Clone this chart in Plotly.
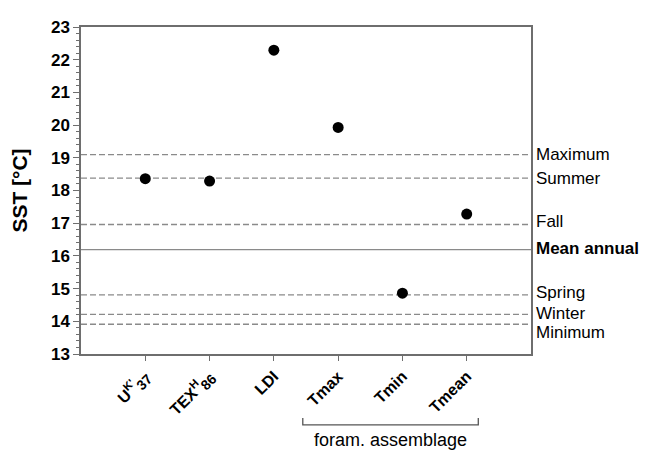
import plotly.graph_objects as go

# Data
proxies = ["U<sup>K'</sup><sub><span style=\"font-size:14px\">37</span></sub>",
           "TEX<sup>H</sup><sub><span style=\"font-size:14px\">86</span></sub>",
           "LDI", "Tmax", "Tmin", "Tmean"]
proxy_pos = [1, 2, 3, 4, 5, 6]
sst_values = [18.36, 18.29, 22.29, 19.93, 14.86, 17.28]

ref_labels = ["Maximum", "Summer", "Fall", "<b>Mean annual</b>", "Spring", "Winter", "Minimum"]
ref_values = [19.10, 18.38, 16.96, 16.19, 14.81, 14.21, 13.91]
ref_dash = ["dash", "dash", "dash", "solid", "dash", "dash", "dash"]
label_shift = [0, 0, 3, 1, 2, 1, -8]

y_ticks = list(range(13, 24))
font_family = "Arial, Liberation Sans, Helvetica, sans-serif"
axis_color = "#6e6e6e"
line_color = "#8a8a8a"

fig = go.Figure()

for lab, val, d in zip(ref_labels, ref_values, ref_dash):
    fig.add_shape(type="line", xref="paper", x0=0, x1=1, yref="y", y0=val, y1=val,
                  line=dict(color=line_color, width=1.3, dash="6px,3px" if d == "dash" else "solid"),
                  layer="below")

fig.add_trace(go.Scatter(x=proxy_pos, y=sst_values, mode="markers",
                         marker=dict(color="black", size=11, line=dict(width=0)),
                         showlegend=False))

for lab, val, sh in zip(ref_labels, ref_values, label_shift):
    fig.add_annotation(xref="paper", x=1.0, yref="y", y=val, text=lab, showarrow=False,
                       xanchor="left", yanchor="middle", xshift=3, yshift=sh,
                       font=dict(size=17, color="black", family=font_family))

# bracket for foram assemblage
bx0 = proxy_pos[3] - 0.55
bx1 = proxy_pos[5] + 0.18
fig.add_shape(type="path", xref="x", yref="paper",
              path=f"M {bx0},-0.196 L {bx0},-0.217 L {bx1},-0.217 L {bx1},-0.196",
              line=dict(color="#555555", width=1.3))
fig.add_annotation(xref="x", x=(bx0 + bx1) / 2, yref="paper", y=-0.262, text="foram. assemblage",
                   showarrow=False, xanchor="center", yanchor="middle",
                   font=dict(size=18, color="black", family=font_family))

fig.update_layout(
    width=643, height=444,
    margin=dict(l=73, r=120, t=10, b=98),
    plot_bgcolor="white", paper_bgcolor="white",
    font=dict(family=font_family, color="black"),
    xaxis=dict(range=[0, 7], tickmode="array", tickvals=proxy_pos, ticktext=[f"<b>{p}</b>" for p in proxies],
               tickangle=-45, ticks="outside", ticklen=5, tickcolor=axis_color, tickwidth=1.3,
               showline=True, linecolor=axis_color, linewidth=1.5, mirror=True,
               showgrid=False, zeroline=False, tickfont=dict(size=16, color="black")),
    yaxis=dict(range=[13, 23], tickmode="array", tickvals=y_ticks,
               ticktext=[f"<b>{t}</b>" for t in y_ticks],
               ticks="outside", ticklen=6, tickcolor=axis_color, tickwidth=1.3,
               minor=dict(dtick=0.2, ticks="outside", ticklen=3, tickcolor=axis_color, tickwidth=1, showgrid=False),
               showline=True, linecolor=axis_color, linewidth=1.5, mirror=True,
               showgrid=False, zeroline=False, tickfont=dict(size=17, color="black"),
               title=dict(text="<b>SST [°C]</b>", font=dict(size=21, color="black"), standoff=18)),
)

fig.write_html("out.html")
